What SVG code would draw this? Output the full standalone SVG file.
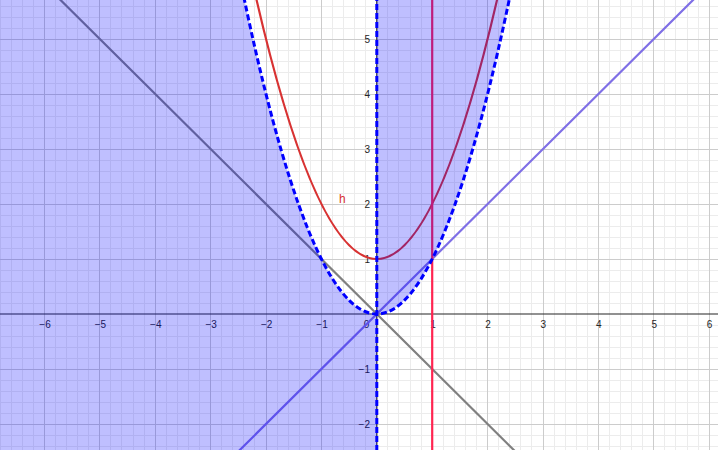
<svg xmlns="http://www.w3.org/2000/svg" width="718" height="450" viewBox="0 0 718 450">
<style>
.minor{stroke:#ececec;stroke-width:1;fill:none}
.major{stroke:#cccccc;stroke-width:1;fill:none}
.axis{stroke:#252525;stroke-width:1.2;fill:none}
.lbl{font-family:"Liberation Sans",Arial,sans-serif;font-size:10px;fill:#252525}
.xl{text-anchor:middle}
.yl{text-anchor:end}
.curve{fill:none;stroke-width:2.2;stroke-linecap:round}
.shade{fill:#0000ff;fill-opacity:0.25;stroke:none}
.bound{fill:none;stroke:#0000ff;stroke-width:3;stroke-dasharray:6 3}
</style>
<rect width="718" height="450" fill="#ffffff"/>
<g id="grid" shape-rendering="crispEdges">
<path class="minor" d="M0.08 0V450M11.16 0V450M22.24 0V450M33.32 0V450M55.48 0V450M66.56 0V450M77.64 0V450M88.72 0V450M110.88 0V450M121.96 0V450M133.04 0V450M144.12 0V450M166.28 0V450M177.36 0V450M188.44 0V450M199.52 0V450M221.68 0V450M232.76 0V450M243.84 0V450M254.92 0V450M277.08 0V450M288.16 0V450M299.24 0V450M310.32 0V450M332.48 0V450M343.56 0V450M354.64 0V450M365.72 0V450M387.88 0V450M398.96 0V450M410.04 0V450M421.12 0V450M443.28 0V450M454.36 0V450M465.44 0V450M476.52 0V450M498.68 0V450M509.76 0V450M520.84 0V450M531.92 0V450M554.08 0V450M565.16 0V450M576.24 0V450M587.32 0V450M609.48 0V450M620.56 0V450M631.64 0V450M642.72 0V450M664.88 0V450M675.96 0V450M687.04 0V450M698.12 0V450
M0 6H718M0 17H718M0 28H718M0 50H718M0 61H718M0 72H718M0 83H718M0 105H718M0 116H718M0 127H718M0 138H718M0 160H718M0 171H718M0 182H718M0 193H718M0 215H718M0 226H718M0 237H718M0 248H718M0 270H718M0 281H718M0 292H718M0 303H718M0 325H718M0 336H718M0 347H718M0 358H718M0 380H718M0 391H718M0 402H718M0 413H718M0 435H718M0 446H718"/>
<path class="major" d="M44.4 0V450M99.8 0V450M155.2 0V450M210.6 0V450M266 0V450M321.4 0V450M432.2 0V450M487.6 0V450M543 0V450M598.4 0V450M653.8 0V450M709.2 0V450
M0 39H718M0 94H718M0 149H718M0 204H718M0 259H718M0 369H718M0 424H718"/>
</g>
<g id="axes">
<path class="axis" d="M0 314H718M376.8 0V450"/>
<g class="lbl xl">
<text x="45" y="328">−6</text>
<text x="100.4" y="328">−5</text>
<text x="155.8" y="328">−4</text>
<text x="211.2" y="328">−3</text>
<text x="266.6" y="328">−2</text>
<text x="322" y="328">−1</text>
<text x="366.5" y="328">0</text>
<text x="433" y="328">1</text>
<text x="488" y="328">2</text>
<text x="543.4" y="328">3</text>
<text x="598.8" y="328">4</text>
<text x="654.2" y="328">5</text>
<text x="709.6" y="328">6</text>
</g>
<g class="lbl yl">
<text x="370" y="42.5">5</text>
<text x="370" y="97.5">4</text>
<text x="370" y="152.5">3</text>
<text x="370" y="207.5">2</text>
<text x="370" y="262.5">1</text>
<text x="370" y="372.5">−1</text>
<text x="370" y="427.5">−2</text>
</g>
</g>
<g id="line-neg">
<path class="curve" stroke="#808080" d="M16.7 -43.5L543 479"/>
</g>
<g id="line-pos">
<path class="curve" stroke="#7f6fe6" d="M210.6 479L736.9 -43.5"/>
</g>
<g id="parabola-h">
<path class="curve" stroke="#d83232" d="M238.3 -84.75Q376.8 602.75 515.3 -84.75"/>
<text x="339" y="203" font-family="'Liberation Sans',Arial,sans-serif" font-size="12" fill="#d83232">h</text>
</g>
<g id="line-x1">
<path class="curve" stroke="#ff2450" d="M432.2 -5V455"/>
</g>
<g id="shading">
<path class="shade" d="M376.8 314Q307.55 314 238.3 -29.75L-10 -29.75L-10 460L376.8 460Z"/>
<path class="shade" d="M376.8 314Q446.05 314 515.3 -29.75L376.8 -29.75Z"/>
</g>
<g id="connectors">
<path class="bound" d="M238.3 -29.75Q376.8 657.75 515.3 -29.75"/>
<path class="bound" d="M376.8 -5V455"/>
</g>
</svg>
